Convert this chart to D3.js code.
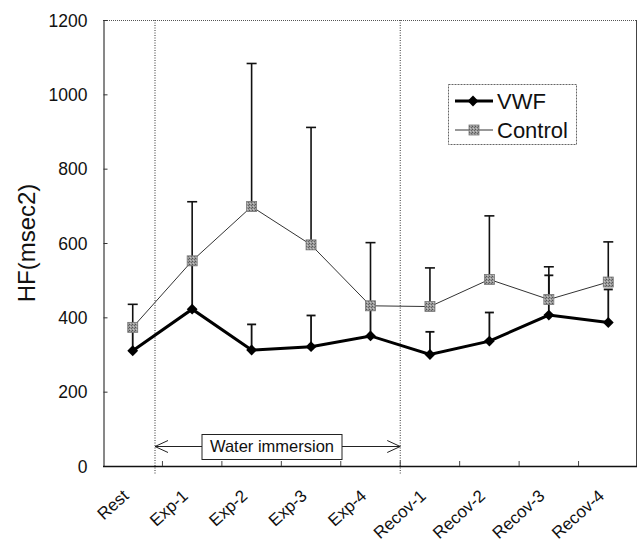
<!DOCTYPE html>
<html>
<head>
<meta charset="utf-8">
<script src="https://cdn.jsdelivr.net/npm/d3@7"></script>
<style>
  body { margin: 0; background: #fff; }
  text { font-family: Arial, "Liberation Sans", sans-serif; fill: #111; }
</style>
</head>
<body>
<svg width="639" height="543"></svg>
<script>
var svg = d3.select("svg"),
  width = +svg.attr("width"),
  height = +svg.attr("height");

// data
var categories = ["Rest", "Exp-1", "Exp-2", "Exp-3", "Exp-4", "Recov-1", "Recov-2", "Recov-3", "Recov-4"];
var vwf = [310, 422, 312, 321, 350, 300, 336, 406, 386];
var vwfUpper = [371, 550, 381, 405, 430, 361, 413, 513, 475];
var control = [373, 552, 698, 595, 431, 429, 502, 448, 495];
var controlUpper = [435, 711, 1083, 911, 601, 533, 673, 536, 603];
var yTicks = [0, 200, 400, 600, 800, 1000, 1200];
var immersion = [0.875, 5]; // in category steps from the left edge

var plotL = 103, plotR = 638, plotT = 20, plotB = 466;

var x = d3.scaleBand()
  .domain(categories)
  .range([plotL, plotR]);

var y = d3.scaleLinear()
  .domain([0, 1200])
  .range([plotB, plotT]);

var cx = function(i) { return x(categories[i]) + x.bandwidth() / 2; };

// speckled fill for the control squares
var defs = svg.append("defs");
var pat = defs.append("pattern")
  .attr("id", "speckle")
  .attr("width", 3).attr("height", 3)
  .attr("patternUnits", "userSpaceOnUse");
pat.append("rect").attr("width", 3).attr("height", 3).attr("fill", "#9a9a9a");
pat.append("rect").attr("width", 1).attr("height", 1).attr("fill", "#555");
pat.append("rect").attr("x", 2).attr("y", 1).attr("width", 1).attr("height", 1).attr("fill", "#666");
pat.append("rect").attr("x", 1).attr("y", 2).attr("width", 1).attr("height", 1).attr("fill", "#c4c4c4");

// frame: top dotted, right grey
svg.append("line")
  .attr("x1", plotL).attr("x2", plotR - 1)
  .attr("y1", plotT + 0.5).attr("y2", plotT + 0.5)
  .attr("stroke", "#555").attr("stroke-dasharray", "1,1");
svg.append("line")
  .attr("x1", plotR - 1.5).attr("x2", plotR - 1.5)
  .attr("y1", plotT).attr("y2", plotB)
  .attr("stroke", "#444");

// immersion boundaries
immersion.forEach(function(u) {
  var xv = plotL + u * x.step();
  svg.append("line")
    .attr("x1", xv).attr("x2", xv)
    .attr("y1", plotT).attr("y2", plotB + 8)
    .attr("stroke", "#333").attr("stroke-dasharray", "1,1.5");
});

// y axis
var yAxis = d3.axisLeft(y)
  .tickValues(yTicks)
  .tickSizeInner(-4)
  .tickSizeOuter(0)
  .tickPadding(16)
  .tickFormat(d3.format("d"));
var gy = svg.append("g")
  .attr("transform", "translate(" + (plotL + 0.5) + ",0)")
  .call(yAxis);
gy.select(".domain").attr("stroke", "#111");
gy.selectAll("line").attr("stroke", "#333");
gy.selectAll("text")
  .style("font-size", "17.5px")
  .attr("dy", "0.35em");

// x axis with boundary ticks pointing up
svg.append("line")
  .attr("x1", plotL).attr("x2", plotR - 1)
  .attr("y1", plotB + 0.5).attr("y2", plotB + 0.5)
  .attr("stroke", "#111").attr("stroke-width", 1.3);
d3.range(1, categories.length).forEach(function(i) {
  var xv = x(categories[i]);
  svg.append("line")
    .attr("x1", xv).attr("x2", xv)
    .attr("y1", plotB).attr("y2", plotB - 5)
    .attr("stroke", "#444");
});

svg.append("g").selectAll("text")
  .data(categories)
  .enter().append("text")
  .attr("transform", function(d, i) { return "translate(" + (cx(i) - 7) + "," + (plotB + 27) + ") rotate(-42)"; })
  .attr("text-anchor", "end")
  .attr("dy", "0.35em")
  .style("font-size", "17px")
  .text(function(d) { return d; });

// y title
svg.append("text")
  .attr("transform", "translate(35," + ((plotT + plotB) / 2) + ") rotate(-90)")
  .attr("text-anchor", "middle")
  .style("font-size", "24px")
  .text("HF(msec2)");

// Water immersion annotation
var ax0 = plotL + immersion[0] * x.step(), ax1 = plotL + immersion[1] * x.step();
var ay = 446.5, boxL = 202, boxR = 342;
svg.append("line").attr("x1", ax0).attr("x2", boxL).attr("y1", ay).attr("y2", ay).attr("stroke", "#222");
svg.append("line").attr("x1", boxR).attr("x2", ax1).attr("y1", ay).attr("y2", ay).attr("stroke", "#222");
svg.append("path")
  .attr("d", "M" + (ax0 + 13) + "," + (ay - 6) + "L" + ax0 + "," + ay + "L" + (ax0 + 13) + "," + (ay + 6))
  .attr("fill", "none").attr("stroke", "#222");
svg.append("path")
  .attr("d", "M" + (ax1 - 13) + "," + (ay - 6) + "L" + ax1 + "," + ay + "L" + (ax1 - 13) + "," + (ay + 6))
  .attr("fill", "none").attr("stroke", "#222");
svg.append("rect")
  .attr("x", boxL).attr("y", 434.5)
  .attr("width", boxR - boxL).attr("height", 25)
  .attr("fill", "#fff").attr("stroke", "#222");
svg.append("text")
  .attr("x", (boxL + boxR) / 2).attr("y", 452)
  .attr("text-anchor", "middle")
  .style("font-size", "16.5px")
  .text("Water immersion");

// error bars
function errorBars(vals, upper, w, sw) {
  var g = svg.append("g").attr("stroke", "#111").attr("stroke-width", sw);
  vals.forEach(function(v, i) {
    g.append("line")
      .attr("x1", cx(i)).attr("x2", cx(i))
      .attr("y1", y(v)).attr("y2", y(upper[i]));
    g.append("line")
      .attr("x1", cx(i) - w / 2).attr("x2", cx(i) + w / 2)
      .attr("y1", y(upper[i])).attr("y2", y(upper[i]));
  });
}
errorBars(vwf, vwfUpper, 9, 1.8);
errorBars(control, controlUpper, 10, 1.6);

var line = d3.line()
  .x(function(d, i) { return cx(i); })
  .y(function(d) { return y(d); });

svg.append("path")
  .datum(control)
  .attr("d", line)
  .attr("fill", "none")
  .attr("stroke", "#333")
  .attr("stroke-width", 1);

svg.append("path")
  .datum(vwf)
  .attr("d", line)
  .attr("fill", "none")
  .attr("stroke", "#000")
  .attr("stroke-width", 3);

var diamond = d3.symbol().type(d3.symbolDiamond2).size(75);

svg.append("g").selectAll("path")
  .data(vwf)
  .enter().append("path")
  .attr("transform", function(d, i) { return "translate(" + cx(i) + "," + y(d) + ")"; })
  .attr("d", diamond)
  .attr("fill", "#000");

svg.append("g").selectAll("rect")
  .data(control)
  .enter().append("rect")
  .attr("x", function(d, i) { return cx(i) - 5; })
  .attr("y", function(d) { return y(d) - 5; })
  .attr("width", 10).attr("height", 10)
  .attr("fill", "url(#speckle)")
  .attr("stroke", "#777").attr("stroke-width", 0.8);

// legend
var lg = svg.append("g").attr("transform", "translate(448,84)");
lg.append("rect")
  .attr("x", 0.5).attr("y", 0.5)
  .attr("width", 128).attr("height", 60)
  .attr("fill", "#fff")
  .attr("stroke", "#666").attr("stroke-dasharray", "2,1");
lg.append("line").attr("x1", 7).attr("x2", 45).attr("y1", 17).attr("y2", 17)
  .attr("stroke", "#000").attr("stroke-width", 3);
lg.append("path").attr("transform", "translate(25,17)").attr("d", diamond).attr("fill", "#000");
lg.append("text").attr("x", 49).attr("y", 25).style("font-size", "22px").text("VWF");
lg.append("line").attr("x1", 7).attr("x2", 45).attr("y1", 46).attr("y2", 46)
  .attr("stroke", "#333").attr("stroke-width", 1);
lg.append("rect").attr("x", 21).attr("y", 41).attr("width", 10).attr("height", 10)
  .attr("fill", "url(#speckle)").attr("stroke", "#777").attr("stroke-width", 0.8);
lg.append("text").attr("x", 49).attr("y", 54).style("font-size", "22px").text("Control");
</script>
</body>
</html>
